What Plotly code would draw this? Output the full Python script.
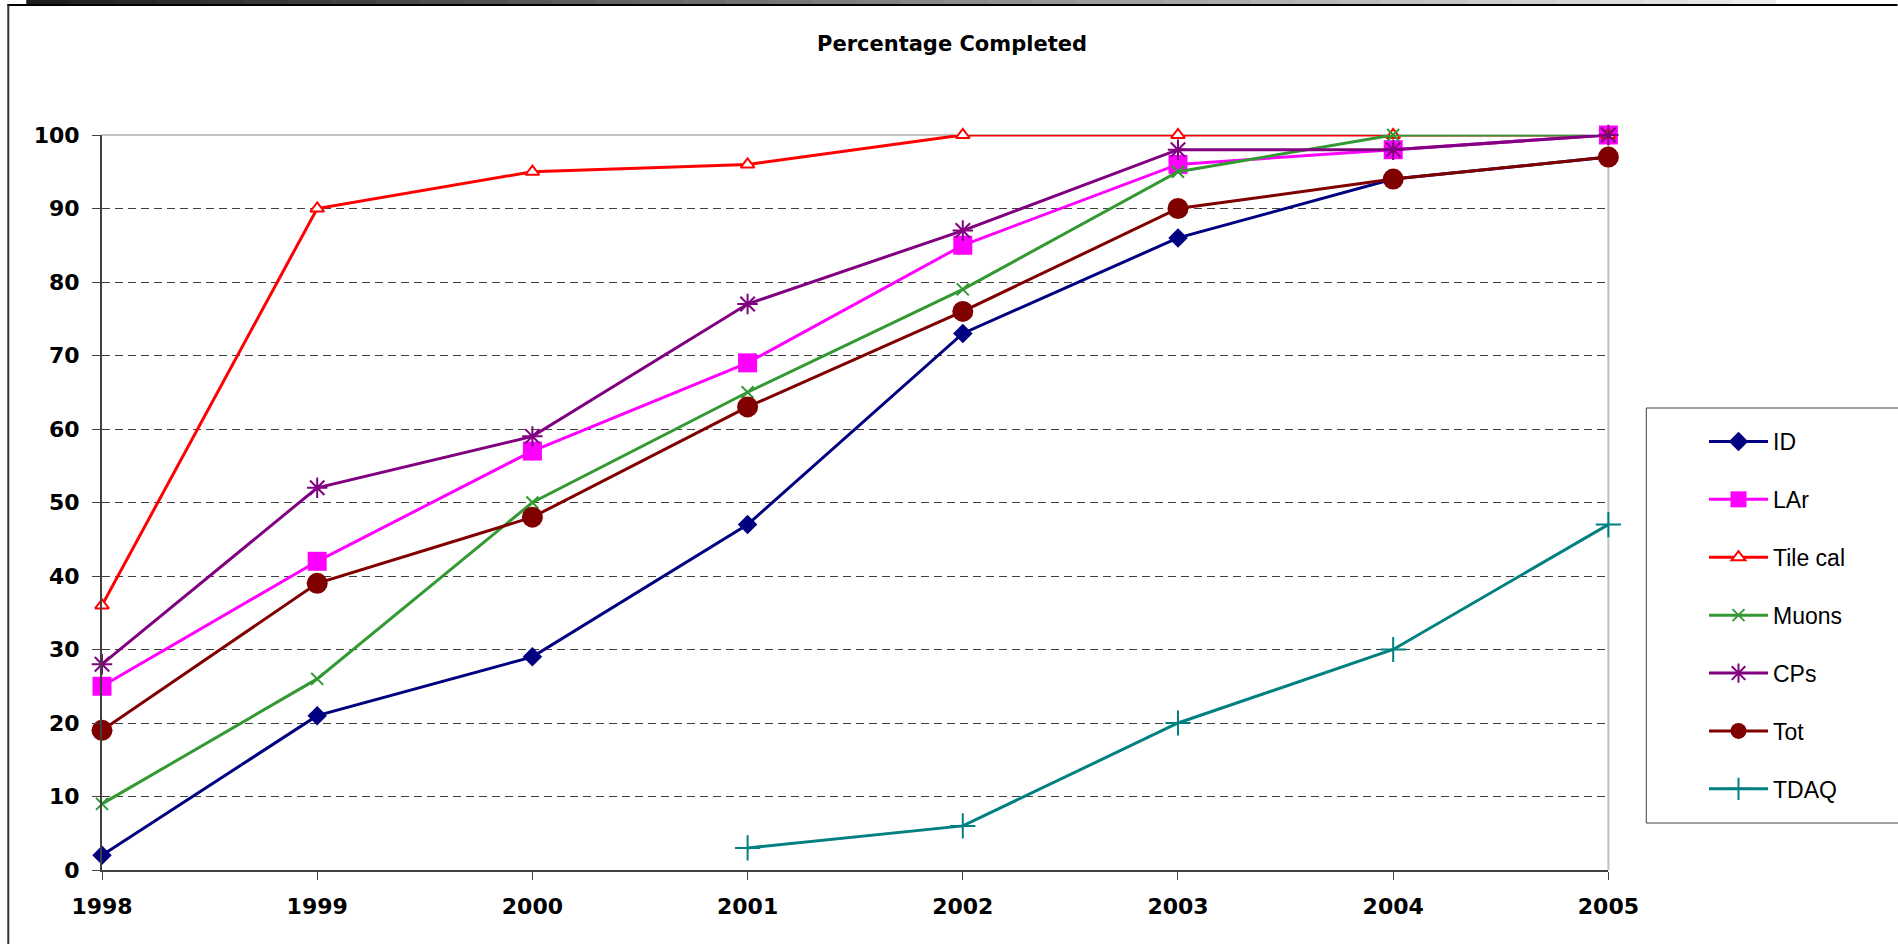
import plotly.graph_objects as go

years = [1998, 1999, 2000, 2001, 2002, 2003, 2004, 2005]
series_names = ["ID", "LAr", "Tile cal", "Muons", "CPs", "Tot", "TDAQ"]
id_vals = [2, 21, 29, 47, 73, 86, 94, 97]
lar_vals = [25, 42, 57, 69, 85, 96, 98, 100]
tile_vals = [36, 90, 95, 96, 100, 100, 100, 100]
muon_vals = [9, 26, 50, 65, 79, 95, 100, 100]
cps_vals = [28, 52, 59, 77, 87, 98, 98, 100]
tot_vals = [19, 39, 48, 63, 76, 90, 94, 97]
tdaq_vals = [None, None, None, 3, 6, 20, 30, 47]
y_ticks = [0, 10, 20, 30, 40, 50, 60, 70, 80, 90, 100]

W, H = 1898, 944
# plot area in page pixels
L, R, T, B = 102, 1613, 135, 870

styles = [
    dict(color="#000080", symbol="diamond", size=15, mcolor="#000080", lw=0, lc="#000080"),
    dict(color="#FF00FF", symbol="square", size=19, mcolor="#FF00FF", lw=0, lc="#FF00FF"),
    dict(color="#FF0000", symbol="triangle-up", size=12, mcolor="#FFFFFF", lw=2, lc="#FF0000"),
    dict(color="#339933", symbol="x-thin", size=12, mcolor="#339933", lw=2, lc="#339933"),
    dict(color="#800080", symbol="asterisk", size=17, mcolor="#800080", lw=2, lc="#800080"),
    dict(color="#800000", symbol="circle", size=21, mcolor="#800000", lw=0, lc="#800000"),
    dict(color="#008080", symbol="cross-thin", size=18, mcolor="#008080", lw=2, lc="#008080"),
]
all_vals = [id_vals, lar_vals, tile_vals, muon_vals, cps_vals, tot_vals, tdaq_vals]

fig = go.Figure()
for i, (name, vals, st) in enumerate(zip(series_names, all_vals, styles)):
    fig.add_trace(go.Scatter(
        x=years, y=vals, name=name, mode="lines+markers",
        legendgroup=f"g{i}",
        line=dict(color=st["color"], width=3),
        marker=dict(symbol=st["symbol"], size=st["size"], color=st["mcolor"],
                    line=dict(width=st["lw"], color=st["lc"])),
        cliponaxis=False,
    ))

def px_x(page_x):
    return (page_x - L) / (R - L)

def px_y(page_y):
    return (B - page_y) / (B - T)

shapes = []
# plot area top and right borders (light gray)
shapes.append(dict(type="line", xref="paper", yref="paper", x0=0, x1=1, y0=1, y1=1,
                   line=dict(color="#C0C0C0", width=2), layer="between"))
shapes.append(dict(type="line", xref="paper", yref="paper", x0=1, x1=1, y0=0, y1=1,
                   line=dict(color="#C0C0C0", width=2), layer="between"))
# top gradient strip (slide header)
n = 40
x_start, x_end = 26, 1780
for k in range(n):
    xa = x_start + (x_end - x_start) * k / n
    xb = x_start + (x_end - x_start) * (k + 1) / n + 1
    g = int(30 + (235 - 30) * k / (n - 1))
    shapes.append(dict(type="rect", xref="paper", yref="paper",
                       x0=px_x(xa), x1=px_x(xb), y0=px_y(4), y1=px_y(-2),
                       fillcolor=f"rgb({g},{g},{g})", line=dict(width=0), layer="above"))
# outer frame: top black line and left dark line
shapes.append(dict(type="line", xref="paper", yref="paper", x0=px_x(7), x1=px_x(W + 5),
                   y0=px_y(5), y1=px_y(5), line=dict(color="#000000", width=2), layer="above"))
shapes.append(dict(type="line", xref="paper", yref="paper", x0=px_x(8), x1=px_x(8),
                   y0=px_y(5), y1=px_y(H + 5), line=dict(color="#333333", width=2), layer="above"))
# legend frame (right side runs off the page)
shapes.append(dict(type="rect", xref="paper", yref="paper", x0=px_x(1651), x1=px_x(W + 10),
                   y0=px_y(823), y1=px_y(408), fillcolor="white",
                   line=dict(width=0), layer="above"))
frame = dict(color="#404040", width=1)
shapes.append(dict(type="line", xref="paper", yref="paper", x0=px_x(1651), x1=px_x(W + 10),
                   y0=px_y(408), y1=px_y(408), line=frame, layer="above"))
shapes.append(dict(type="line", xref="paper", yref="paper", x0=px_x(1651), x1=px_x(W + 10),
                   y0=px_y(823), y1=px_y(823), line=frame, layer="above"))
shapes.append(dict(type="line", xref="paper", yref="paper", x0=px_x(1651), x1=px_x(1651),
                   y0=px_y(823), y1=px_y(408), line=frame, layer="above"))

fig.update_layout(
    width=W, height=H,
    margin=dict(l=L, r=W - R, t=T, b=H - B),
    paper_bgcolor="white", plot_bgcolor="white",
    title=dict(text="Percentage Completed", x=952 / W, xref="container", xanchor="center",
               y=1 - 44 / H, yref="container", yanchor="middle",
               font=dict(family="DejaVu Sans", size=21, color="black", weight="bold")),
    xaxis=dict(range=[1998, 2005], tickvals=years, ticktext=[str(y) for y in years],
               showgrid=False, zeroline=False, showline=True, linecolor="#404040", linewidth=2,
               ticks="outside", ticklen=8, tickcolor="#404040", tickwidth=1,
               tickfont=dict(family="DejaVu Sans", size=22, color="black", weight="bold"),
               ticklabelstandoff=8),
    yaxis=dict(range=[0, 100], tickvals=y_ticks, showgrid=True, gridcolor="#404040",
               gridwidth=1, griddash="8px,5px", zeroline=False, showline=True,
               linecolor="#404040", linewidth=2, ticks="outside", ticklen=8,
               tickcolor="#404040", tickwidth=1,
               tickfont=dict(family="DejaVu Sans", size=22, color="black", weight="bold"),
               ticklabelstandoff=8),
    legend=dict(xref="container", yref="container", x=1651 / W, y=1 - 420 / H,
                xanchor="left", yanchor="top", bgcolor="rgba(0,0,0,0)",
                borderwidth=0, tracegroupgap=25, indentation=53, itemwidth=59,
                font=dict(family="Liberation Sans", size=23, color="black"),
                traceorder="grouped"),
    shapes=shapes,
    showlegend=True,
)

fig.write_html("out.html", config={"displayModeBar": False},
               post_script="document.body.style.margin='0px';"
                           "document.body.style.overflow='hidden';"
                           "document.documentElement.style.overflow='hidden';")
